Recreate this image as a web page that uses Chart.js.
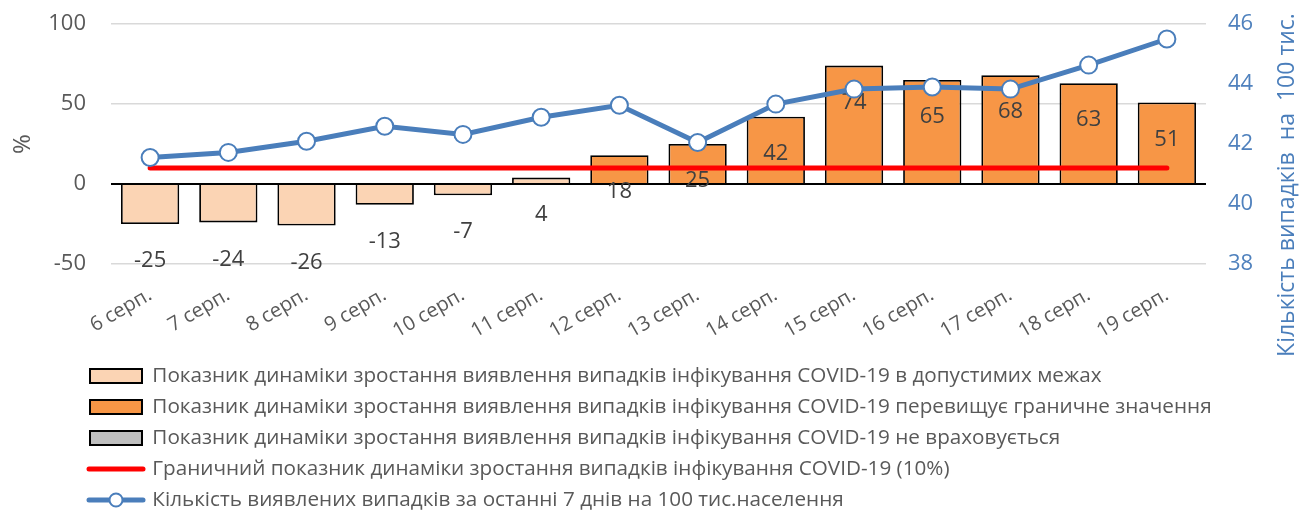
<!DOCTYPE html>
<html lang="uk">
<head>
<meta charset="utf-8">
<title>Динаміка зростання випадків COVID-19</title>
<script src="https://cdn.jsdelivr.net/npm/chart.js@4.4.1/dist/chart.umd.min.js"></script>
<style>
    html, body { margin: 0; padding: 0; background: #fff; }
    #wrap { width: 1301px; height: 510px; }
</style>
</head>
<body>
<div id="wrap"><canvas id="covidChart" width="1301" height="510"></canvas></div>
<script>
// Data
const days = ['6 серп.', '7 серп.', '8 серп.', '9 серп.', '10 серп.', '11 серп.', '12 серп.',
    '13 серп.', '14 серп.', '15 серп.', '16 серп.', '17 серп.', '18 серп.', '19 серп.'];
const growth = [-25, -24, -26, -13, -7, 4, 18, 25, 42, 74, 65, 68, 63, 51];
const cases7d = [41.55, 41.72, 42.09, 42.59, 42.32, 42.89, 43.29, 42.05, 43.33, 43.83, 43.9, 43.83, 44.63, 45.5];
const threshold = 10;
const leftTicks = [-50, 0, 50, 100];
const rightTicks = [38, 40, 42, 44, 46];
const seriesNames = [
    'Показник динаміки зростання виявлення випадків інфікування COVID-19 в допустимих межах',
    'Показник динаміки зростання виявлення випадків інфікування COVID-19 перевищує граничне значення',
    'Показник динаміки зростання виявлення випадків інфікування COVID-19 не враховується',
    'Граничний показник динаміки зростання випадків інфікування COVID-19 (10%)',
    'Кількість виявлених випадків за останні 7 днів на 100 тис.населення'
];
const rightTitle = 'Кількість випадків  на  100 тис.';

const FONT = '"Open Sans", "Noto Sans", "Liberation Sans", sans-serif';
const GREY_TEXT = '#595959';
const BLUE = '#4A7EBB';

// Fit legend font so the longest entry spans about the same width as in the picture
const meas = document.createElement('canvas').getContext('2d');
meas.font = '20px ' + FONT;
const legendSize = Math.min(22, 20 * 1060 / meas.measureText(seriesNames[1]).width);

// Split bars into "within limit" and "over limit"
const withinData = growth.map(v => (v <= threshold ? v : null));
const overData = growth.map(v => (v > threshold ? v : null));
const ignoredData = growth.map(() => null);
const thresholdData = days.map(() => threshold);

// Value labels under each bar end
const barLabels = {
    id: 'barLabels',
    afterDatasetDraw(chart, args) {
        const ds = chart.data.datasets[args.index];
        if (ds.type !== 'bar') return;
        const ctx = chart.ctx;
        ctx.save();
        ctx.font = '22px ' + FONT;
        ctx.fillStyle = '#404040';
        ctx.textAlign = 'center';
        ctx.textBaseline = 'middle';
        args.meta.data.forEach((el, i) => {
            const v = ds.data[i];
            if (v === null || v === undefined) return;
            ctx.fillText(String(v), el.x, el.y + 37);
        });
        ctx.restore();
    }
};

// Move legend to its place and draw line glyphs + right axis title
const extras = {
    id: 'extras',
    afterLayout(chart) {
        const lg = chart.legend;
        const pad = lg.options.labels.padding;
        const ih = Math.max(legendSize, 14);
        const dx = 90 - pad - lg.left;
        const dy = (376 - ih / 2 - pad) - lg.top;
        lg.left += dx; lg.right += dx;
        lg.top += dy; lg.bottom += dy;
    },
    afterDraw(chart) {
        const ctx = chart.ctx;
        const lg = chart.legend;
        const items = lg.legendItems || [];
        ctx.save();
        items.forEach((item, i) => {
            const hb = lg.legendHitBoxes[i];
            if (!hb) return;
            const ds = chart.data.datasets[item.datasetIndex];
            if (ds.type !== 'line') return;
            const cy = hb.top + hb.height / 2;
            const x0 = hb.left - 1, x1 = hb.left + 53;
            ctx.beginPath();
            ctx.lineCap = 'round';
            ctx.lineWidth = 5;
            ctx.strokeStyle = ds.borderColor;
            ctx.moveTo(x0, cy);
            ctx.lineTo(x1, cy);
            ctx.stroke();
            if (ds.pointRadius > 0) {
                ctx.beginPath();
                ctx.arc((x0 + x1) / 2, cy, 6.5, 0, Math.PI * 2);
                ctx.fillStyle = '#fff';
                ctx.fill();
                ctx.lineWidth = 2;
                ctx.stroke();
            }
        });

        // right axis title, reading bottom to top
        ctx.translate(chart.chartArea.right + 81, 185);
        ctx.rotate(-Math.PI / 2);
        ctx.font = '23px ' + FONT;
        ctx.fillStyle = BLUE;
        ctx.textAlign = 'center';
        ctx.textBaseline = 'middle';
        ctx.fillText(rightTitle, 0, 0);
        ctx.restore();
    }
};

const ctx = document.getElementById('covidChart').getContext('2d');
const chart = new Chart(ctx, {
    data: {
        labels: days,
        datasets: [{
            type: 'bar',
            label: seriesNames[0],
            data: withinData,
            backgroundColor: '#FBD4B4',
            borderColor: '#000',
            borderWidth: 1.8,
            grouped: false,
            barPercentage: 0.745,
            categoryPercentage: 1,
            yAxisID: 'y',
            order: 3
        }, {
            type: 'bar',
            label: seriesNames[1],
            data: overData,
            backgroundColor: '#F79646',
            borderColor: '#000',
            borderWidth: 1.8,
            grouped: false,
            barPercentage: 0.745,
            categoryPercentage: 1,
            yAxisID: 'y',
            order: 3
        }, {
            type: 'bar',
            label: seriesNames[2],
            data: ignoredData,
            backgroundColor: '#BFBFBF',
            borderColor: '#000',
            borderWidth: 1.8,
            grouped: false,
            barPercentage: 0.745,
            categoryPercentage: 1,
            yAxisID: 'y',
            order: 3
        }, {
            type: 'line',
            label: seriesNames[3],
            data: thresholdData,
            borderColor: '#FF0000',
            borderWidth: 5,
            borderCapStyle: 'round',
            pointRadius: 0,
            fill: false,
            yAxisID: 'y',
            order: 2
        }, {
            type: 'line',
            label: seriesNames[4],
            data: cases7d,
            borderColor: BLUE,
            borderWidth: 5,
            pointRadius: 8.5,
            pointBorderWidth: 2,
            pointBackgroundColor: '#fff',
            pointBorderColor: BLUE,
            fill: false,
            tension: 0,
            yAxisID: 'y1',
            order: 1
        }]
    },
    options: {
        responsive: false,
        animation: false,
        layout: {
            padding: { top: 24, left: 0, right: 0, bottom: 0 }
        },
        plugins: {
            tooltip: { enabled: false },
            legend: {
                position: 'bottom',
                align: 'start',
                labels: {
                    boxWidth: 52,
                    boxHeight: 14,
                    padding: 31 - Math.max(legendSize, 14),
                    color: GREY_TEXT,
                    font: { family: FONT, size: legendSize },
                    generateLabels(chart) {
                        return chart.data.datasets.map((ds, i) => {
                            const isLine = ds.type === 'line';
                            return {
                                text: ds.label,
                                datasetIndex: i,
                                fillStyle: isLine ? 'rgba(0,0,0,0)' : ds.backgroundColor,
                                strokeStyle: isLine ? 'rgba(0,0,0,0)' : ds.borderColor,
                                lineWidth: isLine ? 0 : 2,
                                fontColor: GREY_TEXT,
                                hidden: false
                            };
                        });
                    }
                }
            }
        },
        scales: {
            x: {
                grid: { display: false },
                border: { display: false },
                ticks: {
                    color: GREY_TEXT,
                    font: { family: FONT, size: 20 },
                    minRotation: 30,
                    maxRotation: 30,
                    autoSkip: false,
                    padding: 11
                },
                afterFit(scale) { scale.height = 81; }
            },
            y: {
                position: 'left',
                min: -50,
                max: 100,
                afterBuildTicks(scale) { scale.ticks = leftTicks.map(v => ({ value: v })); },
                grid: {
                    drawTicks: false,
                    color: c => (c.tick && c.tick.value === 0 ? '#000' : '#D9D9D9'),
                    lineWidth: c => (c.tick && c.tick.value === 0 ? 2 : 1.5)
                },
                border: { display: false },
                ticks: {
                    color: GREY_TEXT,
                    font: { family: FONT, size: 22 },
                    padding: 25
                },
                title: {
                    display: true,
                    text: '%',
                    color: GREY_TEXT,
                    font: { family: FONT, size: 24 },
                    padding: { top: 9, bottom: 0 }
                },
                afterFit(scale) {
                    scale.width = 111;
                    scale.paddingTop = 0;
                    scale.paddingBottom = 0;
                }
            },
            y1: {
                position: 'right',
                min: 38,
                max: 46,
                afterBuildTicks(scale) { scale.ticks = rightTicks.map(v => ({ value: v })); },
                grid: { display: false, drawTicks: false },
                border: { display: false },
                ticks: {
                    color: '#4F81BD',
                    font: { family: FONT, size: 22 },
                    padding: 22
                },
                afterFit(scale) {
                    scale.width = 95;
                    scale.paddingTop = 0;
                    scale.paddingBottom = 0;
                }
            }
        }
    },
    plugins: [barLabels, extras]
});
</script>
</body>
</html>
